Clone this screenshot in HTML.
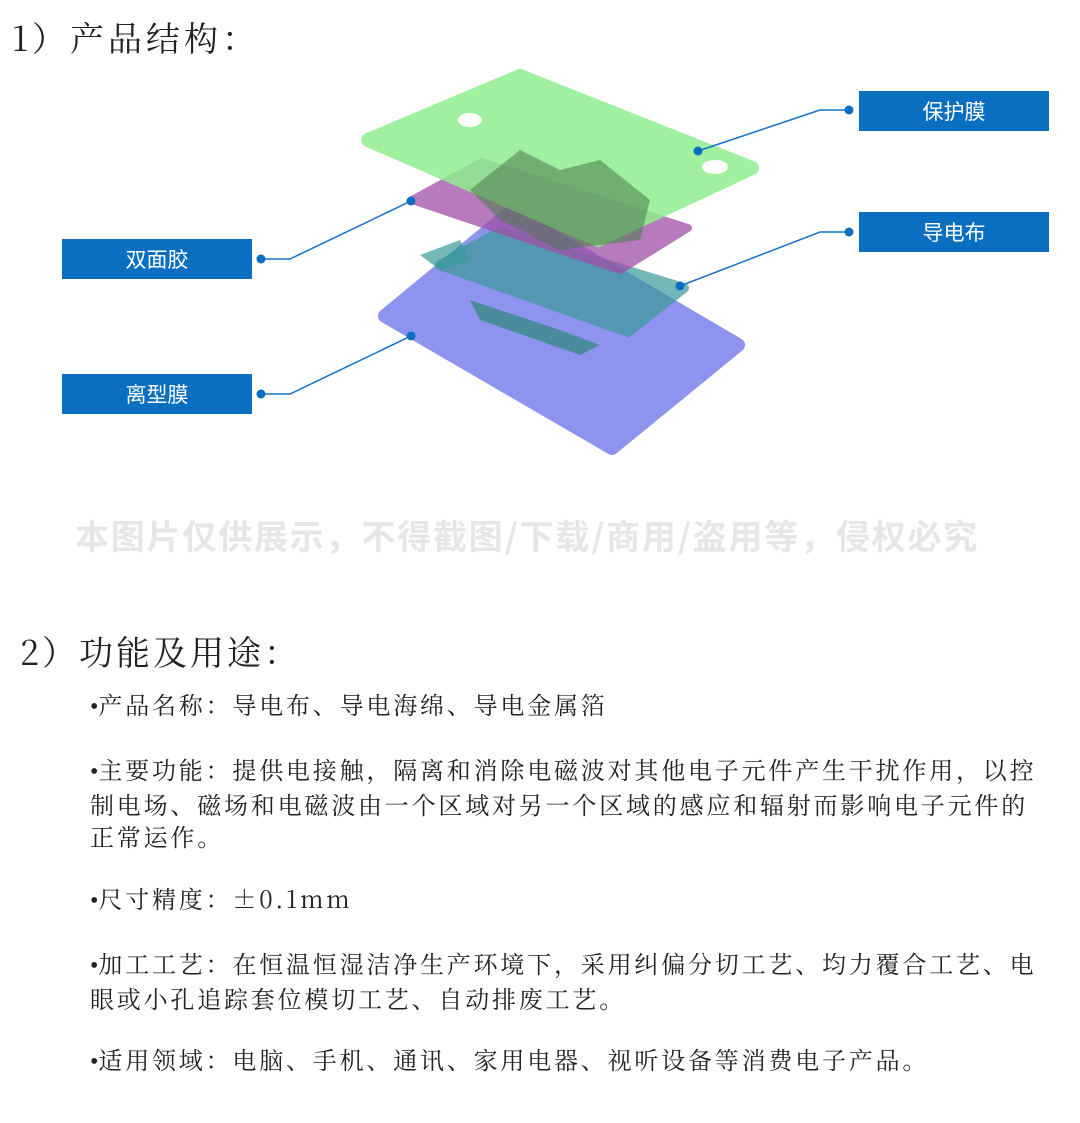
<!DOCTYPE html>
<html><head><meta charset="utf-8"><style>
body{margin:0;width:1080px;height:1123px;background:#fff;position:relative;overflow:hidden;font-family:"Noto Serif CJK SC","Liberation Serif",serif;color:#222}
.t{position:absolute;white-space:nowrap}
.box{position:absolute;width:190px;height:40px;background:#0b6fc1;color:#fff;font-family:"Noto Sans CJK SC","Liberation Sans",sans-serif;font-size:21px;line-height:40px;text-align:center}
.p{position:absolute;left:90px;font-size:24px;line-height:32px;width:952px;letter-spacing:2.8px}
.b{font-family:"Liberation Serif",serif;letter-spacing:0}
</style></head><body>
<div class="t" style="left:12px;top:14px;font-size:34px;line-height:46px;letter-spacing:4px">1）产品结构：</div>
<svg style="position:absolute;left:0;top:0" width="1080" height="480">
<polygon points="385,316 511,212 738,345 612,448" fill="#8a8ef0" stroke="#8a8ef0" stroke-width="14" stroke-linejoin="round" opacity="0.95"/>
<polygon points="440,265 500,232 684,288 628,332" fill="#3a9a9a" stroke="#3a9a9a" stroke-width="10" stroke-linejoin="round" opacity="0.7"/>
<path d="M470,300 L560,330 L600,345 L580,355 L480,320Z" fill="#3a8a8a" opacity="0.8"/>
<path d="M420,255 L460,240 L470,260 L440,270Z" fill="#3a9a9a" opacity="0.7"/>
<polygon points="412,200 482,162 688,228 620,270" fill="#a050a8" stroke="#a050a8" stroke-width="8" stroke-linejoin="round" opacity="0.75"/>
<polygon points="368,140 520,76 752,168 598,240" fill="#90ee90" stroke="#90ee90" stroke-width="14" stroke-linejoin="round" opacity="0.85"/>
<path d="M470,190 L520,150 L560,170 L600,160 L650,200 L640,240 L560,250 L500,220Z" fill="#4a7a4a" opacity="0.55"/>
<ellipse cx="470" cy="120" rx="12" ry="7" fill="#fff"/>
<ellipse cx="715" cy="167" rx="13" ry="7" fill="#fff"/>
<g stroke="#1670c8" stroke-width="1.5" fill="none">
<polyline points="849,110 820,110 698,151"/>
<polyline points="849,232 820,232 680,286"/>
<polyline points="261,259 290,259 411,201"/>
<polyline points="261,394 290,394 411,336"/>
</g>
<g fill="#0b6fc1">
<circle cx="849" cy="110" r="4.5"/><circle cx="698" cy="151" r="4.5"/>
<circle cx="849" cy="232" r="4.5"/><circle cx="680" cy="286" r="4.5"/>
<circle cx="261" cy="259" r="4.5"/><circle cx="411" cy="201" r="4.5"/>
<circle cx="261" cy="394" r="4.5"/><circle cx="411" cy="336" r="4.5"/>
</g>
</svg>
<div class="box" style="left:859px;top:91px">保护膜</div>
<div class="box" style="left:859px;top:212px">导电布</div>
<div class="box" style="left:62px;top:239px">双面胶</div>
<div class="box" style="left:62px;top:374px">离型膜</div>
<div class="t" style="left:75px;top:512px;font-size:34px;line-height:46px;letter-spacing:1.8px;font-weight:bold;color:#e6e6e6;font-family:'Noto Sans CJK SC','Liberation Sans',sans-serif">本图片仅供展示，不得截图/下载/商用/盗用等，侵权必究</div>
<div class="t" style="left:20px;top:628px;font-size:34px;line-height:46px;letter-spacing:3px">2）功能及用途：</div>
<div class="p" style="top:688px"><span class="b">•</span>产品名称：导电布、导电海绵、导电金属箔</div>
<div class="p" style="top:753px"><span class="b">•</span>主要功能：提供电接触，隔离和消除电磁波对其他电子元件产生干扰作用，以控制电场、磁场和电磁波由一个区域对另一个区域的感应和辐射而影响电子元件的正常运作。</div>
<div class="p" style="top:882px"><span class="b">•</span>尺寸精度：±0.1mm</div>
<div class="p" style="top:947px"><span class="b">•</span>加工工艺：在恒温恒湿洁净生产环境下，采用纠偏分切工艺、均力覆合工艺、电眼或小孔追踪套位模切工艺、自动排废工艺。</div>
<div class="p" style="top:1043px"><span class="b">•</span>适用领域：电脑、手机、通讯、家用电器、视听设备等消费电子产品。</div>
</body></html>
